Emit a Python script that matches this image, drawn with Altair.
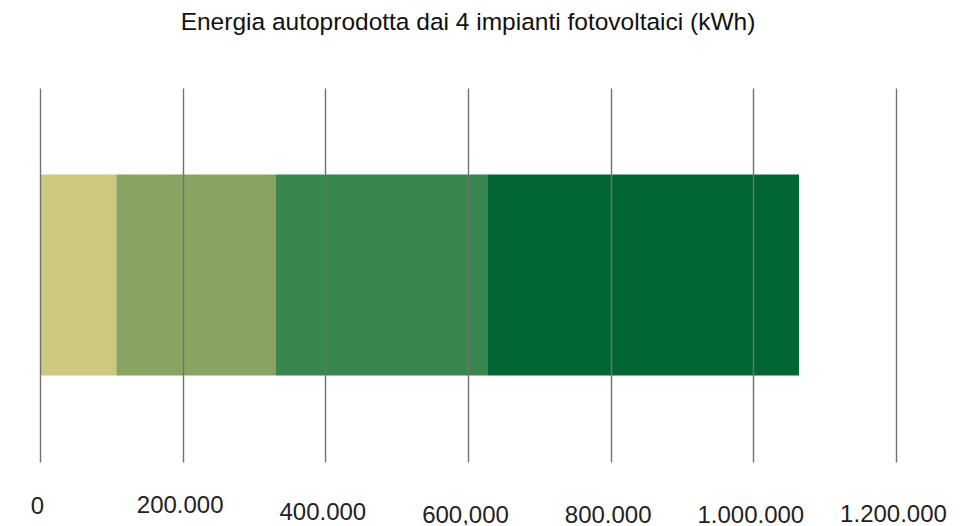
import altair as alt
import pandas as pd

# Data
segments = ["Impianto 1", "Impianto 2", "Impianto 3", "Impianto 4"]
values = [107000, 223000, 297000, 437000]
colors = ["#CCC97E", "#89A462", "#37874F", "#026634"]
tick_values = [0, 200000, 400000, 600000, 800000, 1000000, 1200000]
tick_labels = ["0", "200.000", "400.000", "600,000", "800.000", "1.000.000", "1.200.000"]
title_text = "Energia autoprodotta dai 4 impianti fotovoltaici (kWh)"

df = pd.DataFrame({
    "impianto": segments,
    "kwh": values,
    "ordine": list(range(len(segments))),
    "riga": ["Totale"] * len(segments),
})

# label text mapping
label_expr = "''"
for v, t in reversed(list(zip(tick_values, tick_labels))):
    label_expr = f"datum.value == {v} ? '{t}' : ({label_expr})"

# per-label vertical padding (style only)
pads = [32, 31, 38, 41, 41, 41, 40]
label_padding = {
    "condition": [{"test": f"datum.value == {v}", "value": p} for v, p in zip(tick_values, pads)],
    "value": 30,
}

chart = alt.Chart(df).mark_bar().encode(
    x=alt.X(
        "kwh:Q",
        stack="zero",
        scale=alt.Scale(domain=[0, 1200000], nice=False),
        axis=alt.Axis(
            values=tick_values,
            title=None,
            grid=True,
            gridColor="#707070",
            gridWidth=1.4,
            domain=False,
            ticks=False,
            zindex=1,
            labelExpr=label_expr,
            labelFont="Liberation Sans",
            labelFontSize=24,
            labelColor="#222222",
            labelPadding=label_padding,
            labelOffset=-3,
            labelFlush=False,
            labelOverlap=False,
        ),
    ),
    y=alt.Y("riga:N", axis=None, scale=alt.Scale(paddingInner=0, paddingOuter=0.43)),
    color=alt.Color("impianto:N", scale=alt.Scale(domain=segments, range=colors), legend=None),
    order=alt.Order("ordine:Q"),
).properties(
    width=856,
    height=374,
    title=alt.TitleParams(
        text=title_text,
        font="Liberation Sans",
        fontSize=24.5,
        fontWeight="normal",
        color="#111111",
        anchor="middle",
        baseline="alphabetic",
        offset=34,
    ),
    autosize=alt.AutoSizeParams(type="none"),
    padding={"left": 32, "top": 80, "right": 65, "bottom": 63},
).configure_view(stroke=None)

chart.save("out.html", embed_options={"renderer": "svg", "actions": False})
